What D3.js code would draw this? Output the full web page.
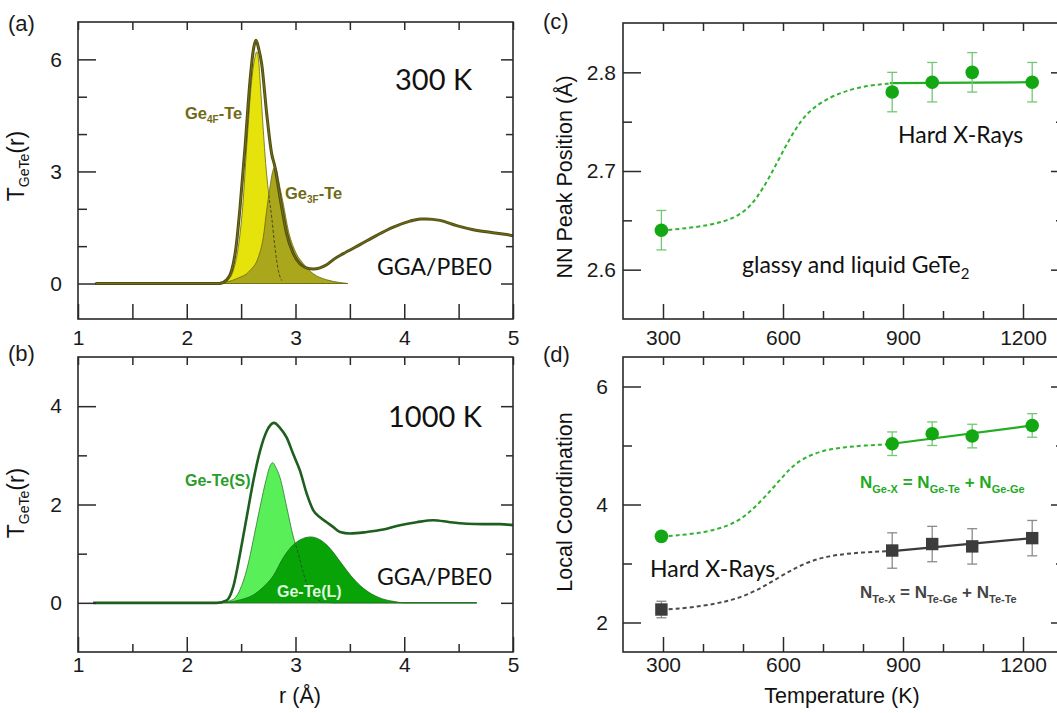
<!DOCTYPE html>
<html><head><meta charset="utf-8">
<script src="https://cdn.jsdelivr.net/npm/d3@7"></script>
<style>body{margin:0;background:#fff} svg{display:block} text{white-space:pre}</style>
</head><body><svg id="c" width="1057" height="713"></svg>
<script>
// ---------------- data ----------------
// panel (a) 300 K : total T_GeTe(r) and two components
const totalA = [[1.16,0],[2.30,0],[2.367,0.10],[2.413,0.35],[2.453,0.97],[2.49,2.04],[2.536,3.65],[2.582,5.44],[2.615,6.30],[2.637,6.51],[2.66,6.30],[2.689,5.88],[2.735,4.55],[2.781,3.47],[2.811,3.12],[2.827,2.85],[2.873,2.04],[2.919,1.33],[2.98,0.80],[3.041,0.53],[3.10,0.42],[3.164,0.39],[3.225,0.42],[3.287,0.50],[3.348,0.64],[3.44,0.80],[3.593,1.04],[3.747,1.29],[3.90,1.51],[4.053,1.67],[4.15,1.73],[4.206,1.73],[4.329,1.69],[4.482,1.55],[4.635,1.44],[4.789,1.37],[4.942,1.31],[5.0,1.28]];
const ge4F = [[1.16,0],[2.30,0],[2.382,0.10],[2.428,0.35],[2.474,0.97],[2.514,2.04],[2.551,3.65],[2.597,5.44],[2.625,6.02],[2.643,6.20],[2.66,6.00],[2.674,5.44],[2.704,4.10],[2.726,3.21],[2.75,2.49],[2.781,1.78],[2.811,0.97],[2.842,0.35],[2.873,0.08],[2.95,0],[3.48,0]];
const ge3F = [[2.30,0],[2.459,0.13],[2.582,0.35],[2.658,0.70],[2.704,1.24],[2.735,1.96],[2.765,2.58],[2.79,3.00],[2.811,3.12],[2.83,3.00],[2.842,2.80],[2.888,2.13],[2.934,1.42],[2.995,0.88],[3.072,0.53],[3.164,0.26],[3.287,0.10],[3.40,0.03],[3.48,0]];
// panel (b) 1000 K
const totalB = [[1.14,0],[2.275,0],[2.367,0.05],[2.428,0.33],[2.49,1.00],[2.551,1.74],[2.612,2.48],[2.674,3.09],[2.735,3.49],[2.802,3.66],[2.857,3.56],[2.919,3.36],[2.98,3.02],[3.041,2.69],[3.103,2.22],[3.164,1.88],[3.225,1.74],[3.287,1.64],[3.348,1.54],[3.41,1.44],[3.501,1.41],[3.655,1.44],[3.807,1.49],[3.961,1.58],[4.114,1.64],[4.267,1.68],[4.421,1.64],[4.574,1.61],[4.727,1.60],[4.88,1.60],[5.0,1.58]];
const geTeS = [[1.14,0],[2.30,0],[2.428,0.07],[2.49,0.27],[2.551,0.67],[2.612,1.28],[2.674,1.95],[2.735,2.55],[2.765,2.78],[2.79,2.85],[2.82,2.75],[2.857,2.55],[2.919,1.95],[2.98,1.34],[3.02,1.05],[3.07,0.62],[3.12,0.30],[3.18,0.10],[3.26,0.02],[3.35,0],[4.666,0]];
const geTeL = [[2.30,0],[2.40,0.02],[2.49,0.06],[2.612,0.16],[2.704,0.32],[2.796,0.55],[2.888,0.92],[2.98,1.18],[3.05,1.29],[3.14,1.34],[3.22,1.29],[3.30,1.15],[3.42,0.81],[3.51,0.55],[3.60,0.34],[3.70,0.18],[3.80,0.08],[3.90,0.03],[4.0,0],[4.666,0]];
// panel (c) NN peak position vs temperature
const tempK   = [296, 873, 973, 1073, 1223];
const peakPos = [2.64, 2.78, 2.79, 2.80, 2.79];
const peakErr = [0.02, 0.02, 0.02, 0.02, 0.02];
const peakGuide = [[296,2.640],[309,2.640],[384,2.643],[451,2.648],[501,2.657],[534,2.672],[567,2.694],[601,2.721],[634,2.745],[667,2.762],[717,2.775],[767,2.7825],[817,2.787],[867,2.7886]];
const peakFit = [[867,2.789],[1223,2.790]];
// panel (d) local coordination
const coordGeX = [3.46, 5.03, 5.20, 5.16, 5.34];
const errGeX   = [0.05, 0.2, 0.2, 0.2, 0.2];
const coordTeX = [2.22, 3.22, 3.33, 3.29, 3.43];
const errTeX   = [0.14, 0.3, 0.3, 0.3, 0.3];
const guideGeX = [[297,3.46],[367,3.49],[434,3.57],[484,3.70],[517,3.87],[551,4.10],[584,4.35],[617,4.61],[651,4.79],[701,4.92],[751,4.97],[801,5.00],[867,5.02]];
const guideTeX = [[297,2.215],[367,2.25],[434,2.32],[484,2.40],[534,2.54],[584,2.74],[634,2.94],[684,3.08],[734,3.15],[801,3.19],[867,3.21]];
const fitGeX = [[873,5.03],[1223,5.34]];
const fitTeX = [[873,3.21],[1223,3.43]];
// ticks
const rMajor = [1,2,3,4,5], rMinor = [1.5,2.5,3.5,4.5];
const yMajorA = [0,3,6], yMinorA = [1,2,4,5];
const yMajorB = [0,2,4], yMinorB = [1,3];
const tMajor = [300,600,900,1200], tMinor = [400,500,700,800,1000,1100];
const yMajorC = [2.6,2.7,2.8], yMinorC = [2.65,2.75];
const yMajorD = [2,4,6], yMinorD = [3,5];

// ---------------- drawing ----------------
const svg = d3.select('#c');
const ARIAL = '"Liberation Sans", Arial, sans-serif';
const CAL = 'Lato, "Open Sans", sans-serif';

function panel(o){
  const g = svg.append('g');
  const x = d3.scaleLinear().domain(o.xd).range([o.L,o.R]);
  const y = d3.scaleLinear().domain(o.yd).range([o.B,o.T]);
  const id = 'clip'+o.name;
  svg.append('clipPath').attr('id',id).append('rect')
     .attr('x',o.L).attr('y',o.T).attr('width',o.R-o.L).attr('height',o.B-o.T);
  const plot = g.append('g').attr('clip-path',`url(#${id})`);
  const axes = g.append('g');
  const add = (axis, tr) => {
    const a = axes.append('g').attr('transform',tr).call(axis);
    a.select('.domain').remove();
    a.selectAll('line').attr('stroke','#2a2a2a').attr('stroke-width',1.5);
    a.selectAll('text').attr('font-family',ARIAL).attr('font-size',21).attr('fill','#1a1a1a');
    return a;
  };
  add(d3.axisBottom(x).tickValues(o.xMaj).tickSize(-15).tickPadding(o.xPad).tickFormat(o.xFmt), `translate(0,${o.B})`);
  add(d3.axisBottom(x).tickValues(o.xMin).tickSize(-o.bMin).tickFormat(''), `translate(0,${o.B})`);
  add(d3.axisTop(x).tickValues(o.xMaj.concat(o.xMin)).tickSize(-8).tickFormat(''), `translate(0,${o.T})`);
  add(d3.axisLeft(y).tickValues(o.yMaj).tickSize(-18).tickPadding(o.yPad).tickFormat(o.yFmt), `translate(${o.L},0)`);
  add(d3.axisLeft(y).tickValues(o.yMin).tickSize(-9).tickFormat(''), `translate(${o.L},0)`);
  add(d3.axisRight(y).tickValues(o.yMaj).tickSize(-12).tickFormat(''), `translate(${o.R},0)`);
  add(d3.axisRight(y).tickValues(o.yMin).tickSize(-7).tickFormat(''), `translate(${o.R},0)`);
  g.append('rect').attr('x',o.L).attr('y',o.T).attr('width',o.R-o.L).attr('height',o.B-o.T)
   .attr('fill','none').attr('stroke','#2a2a2a').attr('stroke-width',1.6);
  return {g, plot, x, y, id};
}

function rich(x, y, parts, o){
  const t = svg.append('text').attr('x',x).attr('y',y)
    .attr('font-family',o.font||ARIAL).attr('font-size',o.size)
    .attr('font-weight',o.weight||'normal').attr('fill',o.fill||'#111')
    .attr('text-anchor',o.anchor||'start');
  if(o.rotate) t.attr('transform',`rotate(-90,${x},${y})`);
  let shift = 0;
  parts.forEach(p=>{
    const s = typeof p==='string'?p:p[0];
    const sub = typeof p!=='string';
    const target = sub ? o.subDy : 0;
    const ts = t.append('tspan').text(s).attr('dy', target-shift);
    if(sub) ts.attr('font-size', o.subSize);
    shift = target;
  });
  return t;
}

// ---- panel (a)
const pa = panel({name:'a',L:78,R:513,T:22,B:319,xd:[1,5],yd:[-0.95,7.0],
  xMaj:rMajor,xMin:rMinor,yMaj:yMajorA,yMin:yMinorA,xFmt:d3.format('d'),yFmt:d3.format('d'),
  xPad:11,yPad:16,bMin:15});
{
  const {plot,x,y} = pa;
  const ar = d3.area().x(d=>x(d[0])).y0(y(0)).y1(d=>y(d[1])).curve(d3.curveMonotoneX);
  const ln = d3.line().x(d=>x(d[0])).y(d=>y(d[1])).curve(d3.curveMonotoneX);
  plot.append('path').attr('d',ar(ge4F)).attr('fill','#e5e20c').attr('stroke','#6a6812').attr('stroke-width',0.8);
  svg.append('clipPath').attr('id','olA').append('path').attr('d',ar(ge3F));
  plot.append('path').attr('d',ar(ge3F)).attr('fill','#aaa71c').attr('stroke','#6a6812').attr('stroke-width',0.8);
  plot.append('g').attr('clip-path','url(#olA)').append('path').attr('d',ln(ge4F.filter(d=>d[1]>0.01)))
      .attr('fill','none').attr('stroke','#4f4d10').attr('stroke-width',1).attr('stroke-dasharray','3,2');
  plot.append('path').attr('d',ln(totalA)).attr('fill','none').attr('stroke','#4f4d0e').attr('stroke-width',3);
  plot.append('path').attr('d',ln(totalA)).attr('fill','none').attr('stroke','#76731f').attr('stroke-width',0.9);
}
// ---- panel (b)
const pb = panel({name:'b',L:78,R:513,T:357,B:652,xd:[1,5],yd:[-1,5],
  xMaj:rMajor,xMin:rMinor,yMaj:yMajorB,yMin:yMinorB,xFmt:d3.format('d'),yFmt:d3.format('d'),
  xPad:5,yPad:16,bMin:8});
{
  const {plot,x,y} = pb;
  const ar = d3.area().x(d=>x(d[0])).y0(y(0)).y1(d=>y(d[1])).curve(d3.curveMonotoneX);
  const ln = d3.line().x(d=>x(d[0])).y(d=>y(d[1])).curve(d3.curveMonotoneX);
  plot.append('path').attr('d',ar(geTeS)).attr('fill','#58ef58').attr('stroke','#2f7a2f').attr('stroke-width',0.8);
  svg.append('clipPath').attr('id','lB').append('path').attr('d',ar(geTeL));
  plot.append('path').attr('d',ar(geTeL)).attr('fill','#07a307').attr('stroke','#1f6a1f').attr('stroke-width',0.8);
  plot.append('g').attr('clip-path','url(#lB)').append('path').attr('d',ln(geTeS.filter(d=>d[1]>0.01)))
      .attr('fill','none').attr('stroke','#1d5a1d').attr('stroke-width',1).attr('stroke-dasharray','3,2');
  plot.append('path').attr('d',ln(totalB)).attr('fill','none').attr('stroke','#1e5e1e').attr('stroke-width',2.6);
}
// ---- panel (c)
const pc = panel({name:'c',L:623,R:1063,T:23,B:319,xd:[200,1300],yd:[2.55,2.85],
  xMaj:tMajor,xMin:tMinor,yMaj:yMajorC,yMin:yMinorC,xFmt:d3.format('d'),yFmt:d3.format('.1f'),
  xPad:11,yPad:7,bMin:8});
const GREEN='#13a813';
function scatter(p, xs, ys, es, guide, fit, o){
  const {plot,x,y} = p;
  const sm = d3.line().x(d=>x(d[0])).y(d=>y(d[1])).curve(d3.curveBasis);
  const ln = d3.line().x(d=>x(d[0])).y(d=>y(d[1]));
  plot.append('path').attr('d',sm(guide)).attr('fill','none').attr('stroke',o.dash).attr('stroke-width',2).attr('stroke-dasharray','4,3');
  plot.append('path').attr('d',ln(fit)).attr('fill','none').attr('stroke',o.line).attr('stroke-width',2.2);
  const eb = plot.append('g').attr('stroke',o.err).attr('stroke-width',1.3);
  xs.forEach((t,i)=>{
    const cx=x(t), y1=y(ys[i]+es[i]), y2=y(ys[i]-es[i]);
    eb.append('line').attr('x1',cx).attr('x2',cx).attr('y1',y1).attr('y2',y2);
    eb.append('line').attr('x1',cx-5).attr('x2',cx+5).attr('y1',y1).attr('y2',y1);
    eb.append('line').attr('x1',cx-5).attr('x2',cx+5).attr('y1',y2).attr('y2',y2);
  });
  const m = plot.append('g');
  xs.forEach((t,i)=>{
    if(o.square) m.append('rect').attr('x',x(t)-6.2).attr('y',y(ys[i])-6.2).attr('width',12.4).attr('height',12.4).attr('fill',o.fill);
    else m.append('circle').attr('cx',x(t)).attr('cy',y(ys[i])).attr('r',6.8).attr('fill',o.fill);
  });
}
scatter(pc, tempK, peakPos, peakErr, peakGuide, peakFit, {dash:'#2fb42f',line:'#22ad22',err:'#72c872',fill:GREEN});
// ---- panel (d)
const pd = panel({name:'d',L:623,R:1063,T:357,B:652,xd:[200,1300],yd:[1.5,6.5],
  xMaj:tMajor,xMin:tMinor,yMaj:yMajorD,yMin:yMinorD,xFmt:d3.format('d'),yFmt:d3.format('d'),
  xPad:5,yPad:15,bMin:8});
scatter(pd, tempK, coordGeX, errGeX, guideGeX, fitGeX, {dash:'#2fb42f',line:'#22ad22',err:'#72c872',fill:GREEN});
scatter(pd, tempK, coordTeX, errTeX, guideTeX, fitTeX, {dash:'#4a4a4a',line:'#3a3a3a',err:'#8a8a8a',fill:'#3c3c3c',square:true});

// ---------------- text ----------------
[['(a)',8,31],['(b)',8,361],['(c)',543,29],['(d)',543,362]].forEach(([s,x,y])=>
  svg.append('text').attr('x',x).attr('y',y).attr('font-family',ARIAL).attr('font-size',22).attr('fill','#1a1a1a').text(s));
// axis titles
rich(24,166,['T',['GeTe'],'(r)'],{size:23,subSize:14,subDy:5,anchor:'middle',rotate:true});
rich(24,503,['T',['GeTe'],'(r)'],{size:23,subSize:14,subDy:5,anchor:'middle',rotate:true});
rich(300,703,['r (Å)'],{size:21.5,anchor:'middle'});
rich(842,703,['Temperature (K)'],{size:21.5,anchor:'middle'});
rich(572,177,['NN Peak Position (Å)'],{size:21.5,anchor:'middle',rotate:true});
rich(572,502,['Local Coordination'],{size:21.5,anchor:'middle',rotate:true});
// annotations
rich(395,90,['300 K'],{font:CAL,size:29});
rich(377,275,['GGA/PBE0'],{font:CAL,size:23});
rich(388,427,['1000 K'],{font:CAL,size:29});
rich(377,585,['GGA/PBE0'],{font:CAL,size:23});
rich(898,143,['Hard X-Rays'],{font:CAL,size:23});
rich(742,273,['glassy and liquid GeTe',['2']],{font:CAL,size:23,subSize:15,subDy:6});
rich(650,577,['Hard X-Rays'],{font:CAL,size:23});
const OLIVE='#6f6b14';
rich(185,119,['Ge',['4F'],'-Te'],{size:16.5,weight:'bold',fill:OLIVE,subSize:10,subDy:4});
rich(285,199,['Ge',['3F'],'-Te'],{size:16.5,weight:'bold',fill:OLIVE,subSize:10,subDy:4});
rich(185,486,['Ge-Te(S)'],{size:16,weight:'bold',fill:'#2a9d2a'});
rich(277,597,['Ge-Te(L)'],{size:16,weight:'bold',fill:'#dff7df'});
rich(860,488,['N',['Ge-X'],' = N',['Ge-Te'],' + N',['Ge-Ge']],{size:17,weight:'bold',fill:'#1faa1f',subSize:11,subDy:5});
rich(860,598,['N',['Te-X'],' = N',['Te-Ge'],' + N',['Te-Te']],{size:17,weight:'bold',fill:'#444',subSize:11,subDy:5});
</script></body></html>
